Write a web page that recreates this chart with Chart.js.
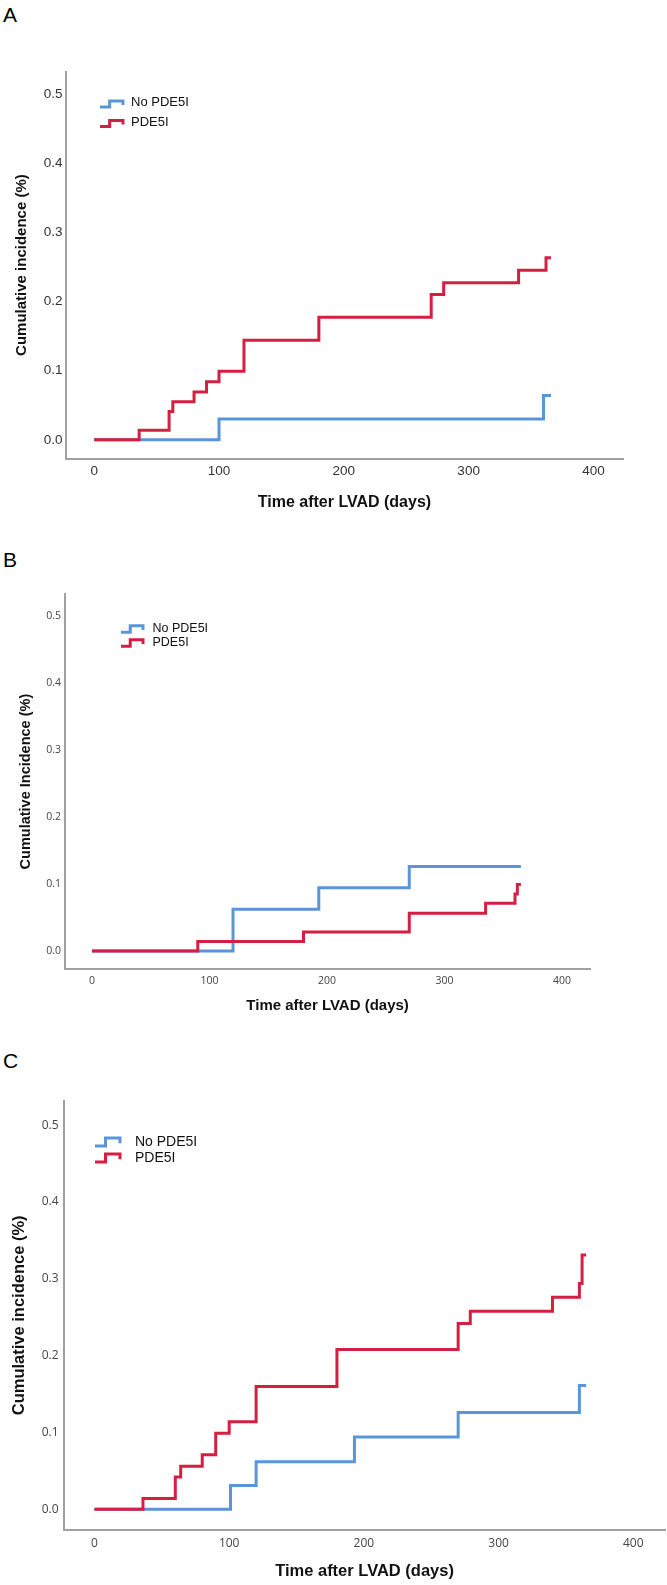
<!DOCTYPE html>
<html>
<head>
<meta charset="utf-8">
<script src="https://cdn.jsdelivr.net/npm/chart.js@4.4.1/dist/chart.umd.min.js"></script>
<style>
  body { margin: 0; background: #fff; width: 667px; height: 1585px; position: relative; overflow: hidden; }
  canvas { position: absolute; left: 0; }
  .letter { position: absolute; left: 3px; font-family: "Liberation Sans", Arial, sans-serif; font-size: 21px; line-height: 1; color: #000; }
</style>
</head>
<body>
<div class="letter" style="top:4px">A</div>
<canvas id="chartA" width="667" height="530" style="top:0px"></canvas>
<div class="letter" style="top:549px">B</div>
<canvas id="chartB" width="667" height="500" style="top:530px"></canvas>
<div class="letter" style="top:1050px">C</div>
<canvas id="chartC" width="667" height="555" style="top:1030px"></canvas>
<script>
// tick labels, shared by all three panels
const xTicks = [0, 100, 200, 300, 400];
const yTicks = [0, 0.1, 0.2, 0.3, 0.4, 0.5];
const seriesNames = ['No PDE5I', 'PDE5I'];

// panel A
const aNoTime = [0, 100, 360, 366];
const aNoInc = [0, 0.030, 0.064, 0.064];
const aPdeTime = [0, 36, 60, 63, 80, 90, 100, 120, 180, 270, 280, 340, 362, 366];
const aPdeInc = [0, 0.014, 0.041, 0.055, 0.069, 0.084, 0.099, 0.144, 0.177, 0.210, 0.227, 0.245, 0.263, 0.263];

// panel B
const bNoTime = [0, 120, 193, 270, 365];
const bNoInc = [0, 0.062, 0.094, 0.126, 0.126];
const bPdeTime = [0, 90, 180, 270, 335, 360, 362, 365];
const bPdeInc = [0, 0.014, 0.028, 0.056, 0.071, 0.085, 0.099, 0.099];

// panel C
const cNoTime = [0, 101, 120, 193, 270, 360, 365];
const cNoInc = [0, 0.031, 0.062, 0.094, 0.126, 0.161, 0.161];
const cPdeTime = [0, 36, 60, 64, 80, 90, 100, 120, 180, 270, 279, 340, 360, 362, 365];
const cPdeInc = [0, 0.014, 0.042, 0.056, 0.071, 0.099, 0.114, 0.160, 0.208, 0.242, 0.258, 0.276, 0.294, 0.331, 0.331];

const blue = '#5a95d8';
const red = '#d51f41';
const axisGrey = '#a0a0a0';

function toPoints(times, vals) {
    return times.map((t, i) => ({ x: t, y: vals[i] }));
}

// little step glyph legend like the SPSS one, drawn inside the plot
const stepLegend = {
    id: 'stepLegend',
    afterDraw(chart, args, o) {
        const ctx = chart.ctx;
        ctx.save();
        chart.data.datasets.forEach((ds, i) => {
            const cy = o.y + i * o.gap;
            const sy = cy + o.dy;
            ctx.strokeStyle = ds.borderColor;
            ctx.lineWidth = 3;
            ctx.beginPath();
            ctx.moveTo(o.x, sy + o.h / 2);
            ctx.lineTo(o.x + o.w * 0.42, sy + o.h / 2);
            ctx.lineTo(o.x + o.w * 0.42, sy - o.h / 2);
            ctx.lineTo(o.x + o.w, sy - o.h / 2);
            ctx.lineTo(o.x + o.w, sy + o.h * 0.15);
            ctx.stroke();
            ctx.fillStyle = '#111';
            ctx.font = o.font;
            ctx.textBaseline = 'middle';
            ctx.fillText(ds.label, o.textX, cy);
        });
        ctx.restore();
    }
};

function makePanel(id, p) {
    return new Chart(document.getElementById(id), {
        type: 'line',
        data: {
            datasets: [
                { label: seriesNames[0], data: toPoints(p.noTime, p.noInc), borderColor: blue, order: 1 },
                { label: seriesNames[1], data: toPoints(p.pdeTime, p.pdeInc), borderColor: red, order: 0 }
            ]
        },
        options: {
            responsive: false,
            animation: false,
            layout: { padding: { top: p.top, right: p.right, left: 0, bottom: 0 } },
            elements: {
                point: { radius: 0, hoverRadius: 0 },
                line: { stepped: 'before', borderWidth: 3, tension: 0, fill: false }
            },
            plugins: {
                legend: { display: false },
                tooltip: { enabled: false },
                stepLegend: p.legend
            },
            scales: {
                x: {
                    type: 'linear',
                    min: -23,
                    max: 424,
                    afterBuildTicks: s => { s.ticks = xTicks.map(v => ({ value: v })); },
                    afterFit: s => { s.height = p.xHeight; },
                    grid: { display: false, drawTicks: false },
                    border: { display: true, color: axisGrey, width: 2 },
                    ticks: { font: p.tickFont, color: p.tickColor, padding: p.xPad, maxRotation: 0 },
                    title: {
                        display: true,
                        text: 'Time after LVAD (days)',
                        color: '#111',
                        font: { family: '"Liberation Sans", Arial, sans-serif', size: p.xTitleSize, weight: 'bold' },
                        padding: { top: 0, bottom: p.xTitlePad }
                    }
                },
                y: {
                    min: -0.027,
                    max: 0.532,
                    afterBuildTicks: s => { s.ticks = yTicks.map(v => ({ value: v })); },
                    afterFit: s => { s.width = p.yWidth; },
                    grid: { display: false, drawTicks: false },
                    border: { display: true, color: axisGrey, width: 2 },
                    ticks: { font: p.tickFont, color: p.tickColor, padding: p.yPad, callback: v => v.toFixed(1) },
                    title: {
                        display: true,
                        text: p.yTitle,
                        color: '#111',
                        font: { family: '"Liberation Sans", Arial, sans-serif', size: p.yTitleSize, weight: 'bold' },
                        padding: { top: p.yTitlePad, bottom: 0 }
                    }
                }
            }
        },
        plugins: [stepLegend]
    });
}

makePanel('chartA', {
    noTime: aNoTime, noInc: aNoInc, pdeTime: aPdeTime, pdeInc: aPdeInc,
    top: 71.7, right: 43.6, yWidth: 65.5, xHeight: 71.5,
    tickFont: { family: '"Liberation Sans", Arial, sans-serif', size: 13.5 }, tickColor: '#333',
    xPad: 5, yPad: 3, xTitleSize: 16, xTitlePad: 17.4, yTitle: 'Cumulative incidence (%)', yTitleSize: 15, yTitlePad: 13,
    legend: { x: 100, w: 23, h: 6, y: 102.5, gap: 19.5, dy: 1.5, textX: 131, font: '13px "Liberation Sans", Arial, sans-serif' }
});

makePanel('chartB', {
    noTime: bNoTime, noInc: bNoInc, pdeTime: bPdeTime, pdeInc: bPdeInc,
    top: 64.2, right: 76.8, yWidth: 65, xHeight: 61,
    tickFont: { family: '"Open Sans", "DejaVu Sans", sans-serif', size: 10.5 }, tickColor: '#444',
    xPad: 6, yPad: 4, xTitleSize: 15, xTitlePad: 15, yTitle: 'Cumulative Incidence (%)', yTitleSize: 14.5, yTitlePad: 17,
    legend: { x: 121, w: 22, h: 6.5, y: 99, gap: 14, dy: 0, textX: 152.5, font: '12.5px "Liberation Sans", Arial, sans-serif' }
});

makePanel('chartC', {
    noTime: cNoTime, noInc: cNoInc, pdeTime: cPdeTime, pdeInc: cPdeInc,
    top: 70.7, right: 1.4, yWidth: 63.5, xHeight: 55,
    tickFont: { family: '"Open Sans", "DejaVu Sans", sans-serif', size: 12 }, tickColor: '#444',
    xPad: 6.5, yPad: 5, xTitleSize: 16.5, xTitlePad: 4, yTitle: 'Cumulative incidence (%)', yTitleSize: 16.5, yTitlePad: 9.5,
    legend: { x: 95, w: 25, h: 8, y: 112, gap: 16, dy: 0, textX: 135, font: '14px "Liberation Sans", Arial, sans-serif' }
});
</script>
</body>
</html>
